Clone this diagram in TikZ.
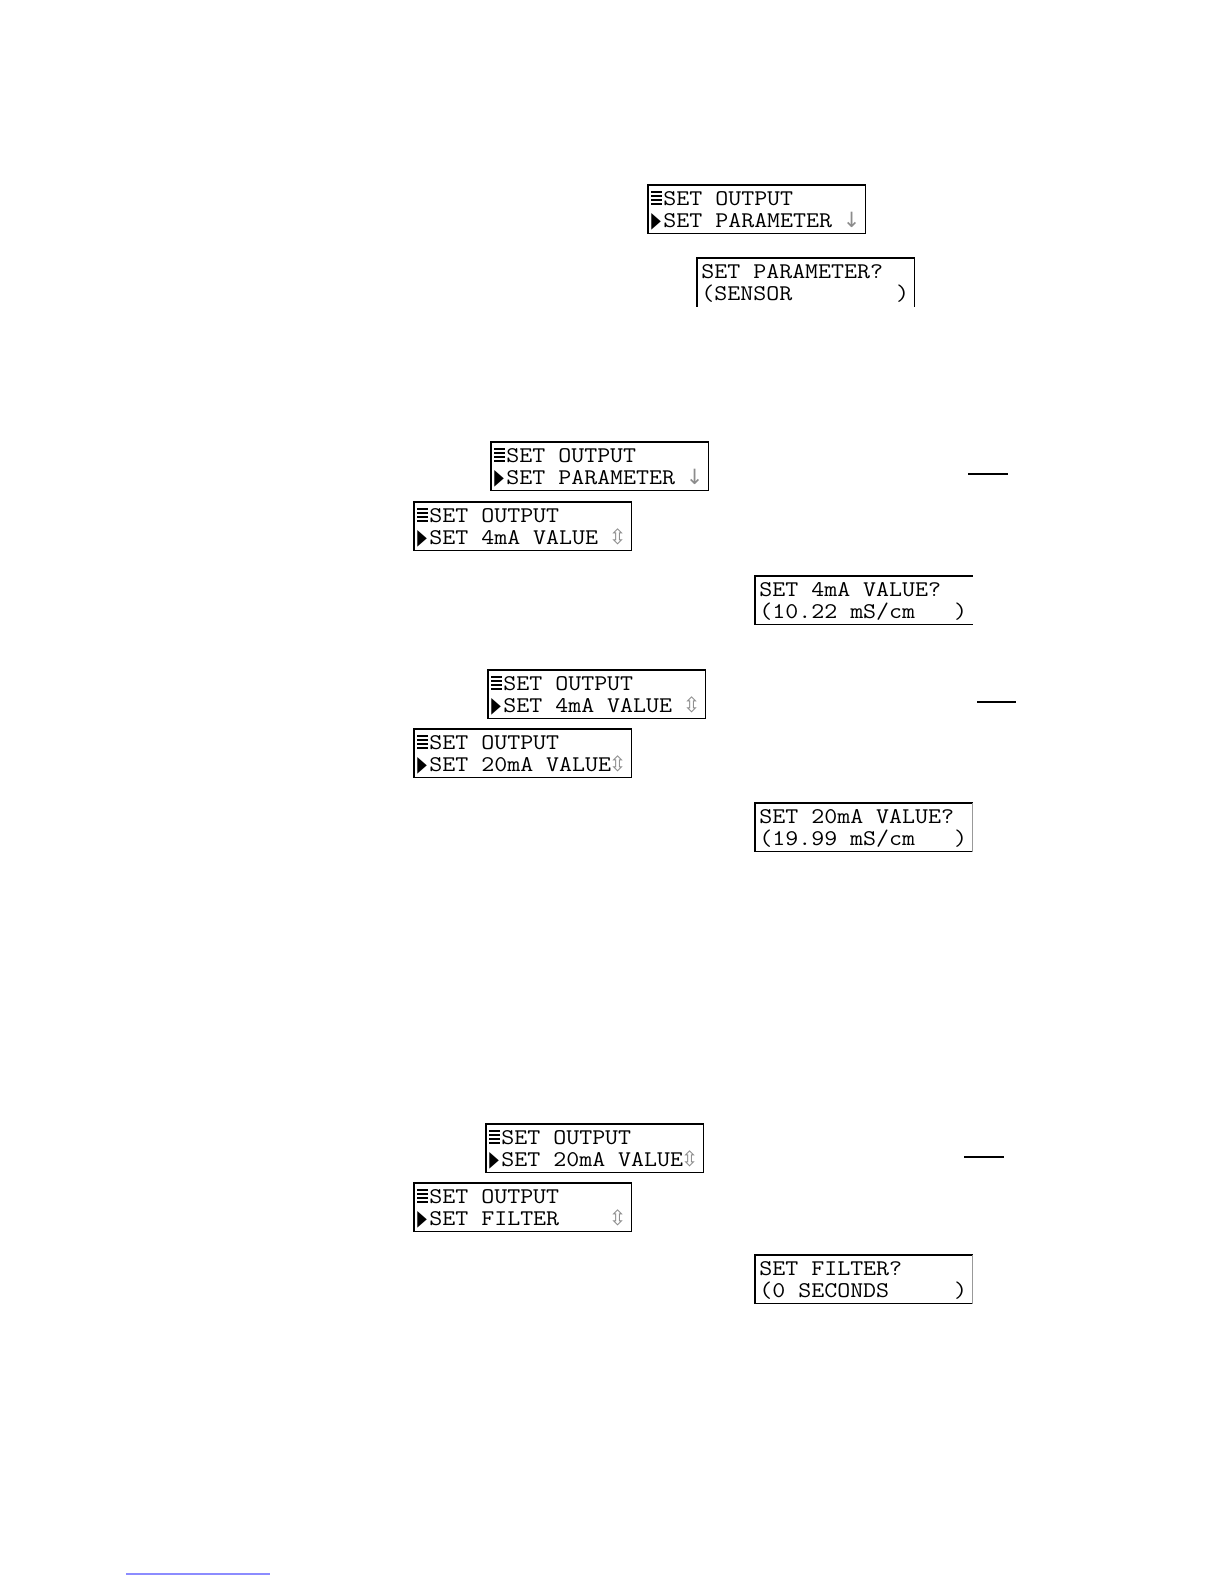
\documentclass[tikz,border=0pt]{standalone}
\usepackage{fontspec}
\usepackage{graphicx}
\usetikzlibrary{calc}
\newfontfamily\lcdfont{Latin Modern Mono}[FakeStretch=1.125]
\newfontfamily\symfont{DejaVu Sans}
\newcommand\menubar{\hrule width 5.2pt height 1.15pt}
\newcommand\menuico{\makebox[6.5pt][l]{\hspace{0.5pt}\vbox to 7pt{\menubar\vfill\menubar\vfill\menubar\vfill\menubar}}}
\newcommand\ptrico{\makebox[6.5pt][l]{\hspace{0.5pt}\resizebox{4.8pt}{7pt}{\symfont ▶}}}
\newcommand\dnico{\makebox[6.5pt][c]{\textcolor{black!45}{\symfont\fontsize{10.5}{10.5}\selectfont ↓}}}
\newcommand\udico{\makebox[6.5pt][c]{\textcolor{black!45}{\symfont\fontsize{10.5}{10.5}\selectfont ⇳}}}
\newcommand\lcd[6]{%
  \node[lcdbox] (#1) at (#2,#3) {};
  \node[lcdtext] (#1a) at ($(#1.north west)+(#6,20)$) {#4};
  \node[lcdtext] (#1b) at ($(#1.north west)+(#6,42)$) {#5};}
\begin{document}
\begin{tikzpicture}[x=0.5pt,y=-0.5pt,
  lcdbox/.style={rectangle,anchor=north west,minimum width=108.5pt,minimum height=24pt,inner sep=0pt},
  lcdtext/.style={anchor=base west,inner sep=0pt,font=\lcdfont\fontsize{11.2}{11.5}\selectfont},
  frame/.style={draw=black,line width=0.6pt},
  lightframe/.style={draw=black!40,line width=0.6pt},
  keyrule/.style={draw=black,line width=0.7pt},
  footrule/.style={draw=blue!45,line width=0.7pt}]
\useasboundingbox (0,0) rectangle (1224,1584);
\fill[white] (0,0) rectangle (1224,1584);

\lcd{b1}{648}{185}{\menuico SET~OUTPUT}{\ptrico SET~PARAMETER~\dnico}{2}
\lcd{b2}{697}{258}{SET~PARAMETER?}{(SENSOR~~~~~~~~)}{4}
\lcd{b3}{491}{442}{\menuico SET~OUTPUT}{\ptrico SET~PARAMETER~\dnico}{2}
\lcd{b4}{414}{502}{\menuico SET~OUTPUT}{\ptrico SET~4mA~VALUE~\udico}{2}
\lcd{b5}{755}{576}{SET~4mA~VALUE?}{(10.22~mS/cm~~~)}{4}
\lcd{b6}{488}{670}{\menuico SET~OUTPUT}{\ptrico SET~4mA~VALUE~\udico}{2}
\lcd{b7}{414}{729}{\menuico SET~OUTPUT}{\ptrico SET~20mA~VALUE\udico}{2}
\lcd{b8}{755}{803}{SET~20mA~VALUE?}{(19.99~mS/cm~~~)}{4}
\lcd{b9}{486}{1124}{\menuico SET~OUTPUT}{\ptrico SET~20mA~VALUE\udico}{2}
\lcd{b10}{414}{1183}{\menuico SET~OUTPUT}{\ptrico SET~FILTER~~~~\udico}{2}
\lcd{b11}{755}{1255}{SET~FILTER?}{(0~SECONDS~~~~~)}{4}

% frames
\foreach \n in {b1,b3,b4,b6,b7,b9,b10}
  \draw[frame] (\n.north west) rectangle (\n.south east);
\draw[frame] (b2.south west) -- (b2.north west) -- (b2.north east) -- (b2.south east);
\draw[frame] (b5.north east) -- (b5.north west) -- (b5.south west) -- (b5.south east);
\draw[frame] (b8.north east) -- (b8.north west) -- (b8.south west) -- (b8.south east);
\draw[lightframe] (b8.north east) -- (b8.south east);
\draw[frame] (b11.north east) -- (b11.north west) -- (b11.south west) -- (b11.south east);
\draw[lightframe] (b11.north east) -- (b11.south east);

% short rules
\coordinate (r1a) at (968,474); \coordinate (r1b) at (1008,474);
\coordinate (r2a) at (977,702); \coordinate (r2b) at (1016,702);
\coordinate (r3a) at (964,1157); \coordinate (r3b) at (1004,1157);
\coordinate (fa) at (126,1574); \coordinate (fb) at (270,1574);
\draw[keyrule] (r1a) -- (r1b);
\draw[keyrule] (r2a) -- (r2b);
\draw[keyrule] (r3a) -- (r3b);
\draw[footrule] (fa) -- (fb);
\end{tikzpicture}
\end{document}
